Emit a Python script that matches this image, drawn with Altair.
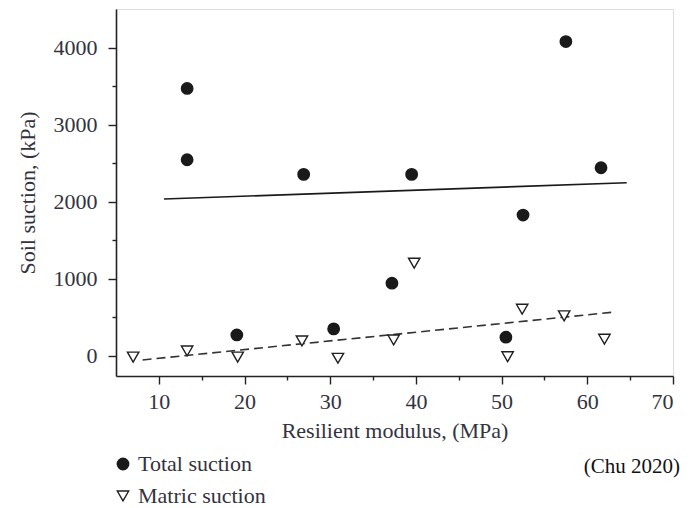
import altair as alt
import pandas as pd

# Data
total_x = [13.3, 13.3, 19.1, 26.9, 30.4, 37.2, 39.5, 50.5, 52.5, 57.5, 61.6]
total_y = [3470, 2545, 273, 2355, 351, 944, 2355, 243, 1827, 4078, 2441]

matric_x = [7.0, 13.3, 19.2, 26.7, 30.9, 37.4, 39.8, 50.7, 52.4, 57.3, 62.0]
matric_y = [-15, 65, -15, 195, -30, 208, 1204, -10, 606, 520, 217]

total_fit_x = [10.6, 64.6]
total_fit_y = [2035, 2247]
matric_fit_x = [8.1, 63.3]
matric_fit_y = [-52, 571]

series_names = ["Total suction", "Matric suction"]
x_ticks = [10, 15, 20, 25, 30, 35, 40, 45, 50, 55, 60, 65, 70]
y_ticks = [0, 500, 1000, 1500, 2000, 2500, 3000, 3500, 4000]

FONT = "Liberation Serif"
TXT = "#333340"

points = pd.DataFrame({
    "x": total_x + matric_x,
    "y": total_y + matric_y,
    "series": [series_names[0]] * len(total_x) + [series_names[1]] * len(matric_x),
})
fit_total = pd.DataFrame({"x": total_fit_x, "y": total_fit_y})
fit_matric = pd.DataFrame({"x": matric_fit_x, "y": matric_fit_y})

xscale = alt.Scale(domain=[5, 70], nice=False, zero=False)
yscale = alt.Scale(domain=[-260, 4500], nice=False, zero=False)

xaxis = alt.Axis(
    values=x_ticks,
    labelExpr="datum.value % 10 === 0 ? datum.label : ''",
    tickSize={"condition": {"test": "datum.value % 10 === 0", "value": 8}, "value": 4},
    grid=False, domainColor="#222", tickColor="#222", domainWidth=1.6, tickWidth=1.4,
    labelFont=FONT, labelFontSize=22, labelColor=TXT, labelPadding=7,
    titleFont=FONT, titleFontSize=22, titleColor=TXT, titleFontWeight="normal",
    titlePadding=8,
)
yaxis = alt.Axis(
    values=y_ticks,
    labelExpr="datum.value % 1000 === 0 ? datum.label : ''",
    tickSize={"condition": {"test": "datum.value % 1000 === 0", "value": 8}, "value": 4},
    format="d",
    grid=False, domainColor="#222", tickColor="#222", domainWidth=1.6, tickWidth=1.4,
    labelFont=FONT, labelFontSize=22, labelColor=TXT, labelPadding=11,
    titleFont=FONT, titleFontSize=22, titleColor=TXT, titleFontWeight="normal",
    titlePadding=14,
)

legend_cfg = dict(
    title=None, orient="none", legendX=-4, legendY=444,
    labelFont=FONT, labelFontSize=22, labelColor=TXT,
    symbolSize=130, symbolStrokeWidth=1.4,
    rowPadding=10, labelOffset=4, symbolOffset=0,
)

line_total = alt.Chart(fit_total).mark_line(color="#1a1a1a", strokeWidth=1.6).encode(
    x=alt.X("x:Q", scale=xscale, axis=xaxis, title="Resilient modulus, (MPa)"),
    y=alt.Y("y:Q", scale=yscale, axis=yaxis, title="Soil suction, (kPa)"),
)
line_matric = alt.Chart(fit_matric).mark_line(color="#333", strokeWidth=1.6, strokeDash=[9, 5]).encode(
    x=alt.X("x:Q", scale=xscale),
    y=alt.Y("y:Q", scale=yscale),
)

pts = alt.Chart(points).mark_point(filled=True, size=130, strokeWidth=1.4, opacity=1).encode(
    x=alt.X("x:Q", scale=xscale),
    y=alt.Y("y:Q", scale=yscale),
    shape=alt.Shape("series:N", scale=alt.Scale(domain=series_names, range=["circle", "triangle-down"]),
                    legend=alt.Legend(**legend_cfg)),
    fill=alt.Fill("series:N", scale=alt.Scale(domain=series_names, range=["#1a1a1a", "white"]),
                  legend=alt.Legend(**legend_cfg)),
    stroke=alt.Stroke("series:N", scale=alt.Scale(domain=series_names, range=["#1a1a1a", "#1f1f1f"]),
                      legend=alt.Legend(**legend_cfg)),
)

note = alt.Chart(pd.DataFrame({"t": ["(Chu 2020)"]})).mark_text(
    font=FONT, fontSize=21, color="#111", align="right", baseline="middle"
).encode(x=alt.value(564), y=alt.value(458), text="t:N")

chart = alt.layer(line_total, line_matric, pts, note).properties(
    width=557, height=367,
    autosize=alt.AutoSizeParams(type="none"),
    padding={"left": 116, "top": 9, "right": 19, "bottom": 132},
).configure_view(stroke=None).configure(background="white")

chart.save("out.html", embed_options={"renderer": "svg", "actions": False})
